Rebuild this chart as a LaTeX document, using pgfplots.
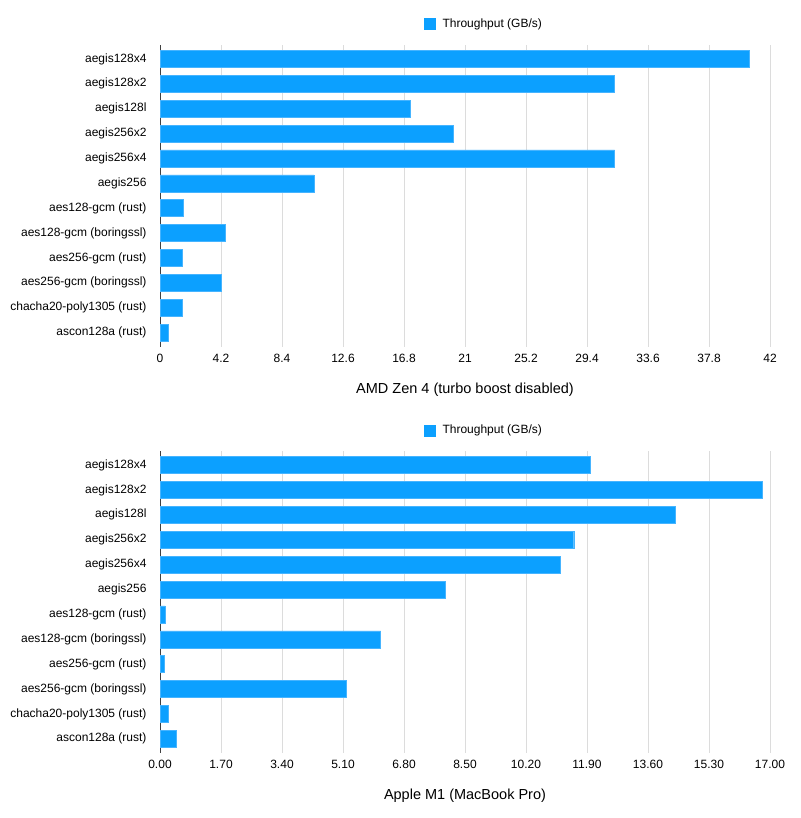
\documentclass[border=0pt]{standalone}
\usepackage{pgfplots}
\pgfplotsset{compat=1.18}
\usepackage{fontspec}
\setmainfont{Liberation Sans}

\definecolor{barblue}{RGB}{12,160,255}
\definecolor{baredge}{RGB}{70,180,255}
\definecolor{gridgray}{RGB}{220,220,220}

\pgfplotsset{
  tp/.style={
    xbar, scale only axis,
    width=610pt, height=301.5pt,
    y dir=reverse,
    ymin=-0.56, ymax=11.56,
    ytick={0,...,11},
    yticklabels={aegis128x4,aegis128x2,aegis128l,aegis256x2,aegis256x4,aegis256,
      aes128-gcm (rust),aes128-gcm (boringssl),aes256-gcm (rust),aes256-gcm (boringssl),
      chacha20-poly1305 (rust),ascon128a (rust)},
    axis lines*=left,
    x axis line style={draw=none},
    y axis line style={draw=black!75, line width=0.8pt},
    major tick length=0pt,
    xmajorgrids, grid style={gridgray, line width=0.8pt},
    yticklabel style={font=\fontsize{12}{14}\selectfont, xshift=-10pt},
    xticklabel style={font=\fontsize{12}{14}\selectfont, yshift=-4pt},
    /pgf/number format/assume math mode=true,
    xlabel style={font=\fontsize{14.5}{16}\selectfont, at={(axis description cs:0.5,0)}, anchor=center, yshift=-43.5pt},
    legend style={draw=none, fill=none, at={(0.5,1)}, anchor=center, xshift=19pt, yshift=21pt,
      font=\fontsize{12}{14}\selectfont},
    legend image code/.code={\fill[barblue] (0pt,-5.5pt) rectangle (11pt,5.5pt); \path (16pt,0pt);},
    bar width=17pt,
  },
}

\begin{document}
\begin{tikzpicture}[x=1pt,y=1pt]
\useasboundingbox (0,0) rectangle (800,-818);

\begin{axis}[tp,
  at={(160pt,-346.5pt)}, anchor=south west,
  xmin=0, xmax=42,
  xtick={0,4.2,8.4,12.6,16.8,21,25.2,29.4,33.6,37.8,42},
  xticklabels={0,4.2,8.4,12.6,16.8,21,25.2,29.4,33.6,37.8,42},
  xlabel={AMD Zen 4 (turbo boost disabled)},
]
\addplot[fill=barblue, draw=baredge] coordinates {
  (40.6,0) (31.3,1) (17.2,2) (20.2,3) (31.3,4) (10.6,5)
  (1.6,6) (4.5,7) (1.5,8) (4.2,9) (1.5,10) (0.55,11)
};
\addlegendentry{Throughput (GB/s)}
\end{axis}

\begin{axis}[tp,
  at={(160pt,-752.7pt)}, anchor=south west,
  xmin=0, xmax=17,
  xtick={0,1.7,3.4,5.1,6.8,8.5,10.2,11.9,13.6,15.3,17},
  xticklabels={0.00,1.70,3.40,5.10,6.80,8.50,10.20,11.90,13.60,15.30,17.00},
  xlabel={Apple M1 (MacBook Pro)},
]
\addplot[fill=barblue, draw=baredge] coordinates {
  (12.0,0) (16.77,1) (14.36,2) (11.53,3) (11.16,4) (7.95,5)
  (0.14,6) (6.15,7) (0.11,8) (5.18,9) (0.24,10) (0.44,11)
};
\addlegendentry{Throughput (GB/s)}
\end{axis}
\end{tikzpicture}
\end{document}
